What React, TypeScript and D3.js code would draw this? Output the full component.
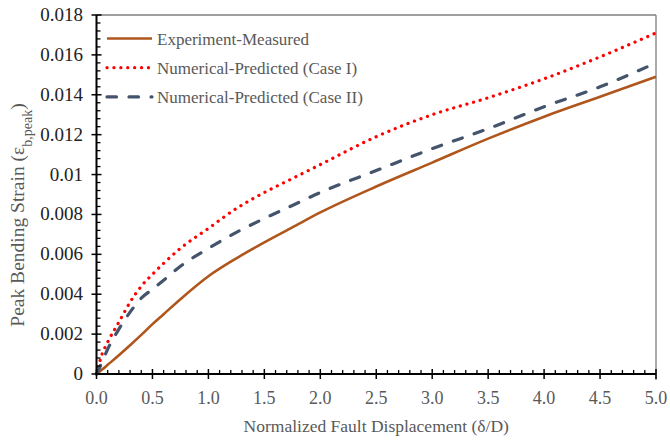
import React from "react";
import * as d3 from "d3";

const displacement = [0, 0.05, 0.1, 0.2, 0.3, 0.4, 0.5, 0.6, 0.75, 1.0, 1.25, 1.5, 1.75, 2.0, 2.5, 3.0, 3.5, 4.0, 4.5, 5.0];
const experimentMeasured = [0, 0.00022, 0.00046, 0.00094, 0.00144, 0.00196, 0.0025, 0.003, 0.00375, 0.0049, 0.0058, 0.0066, 0.00735, 0.0081, 0.0094, 0.0106, 0.0118, 0.0129, 0.0139, 0.0149];
const caseI = [0, 0.001, 0.0016, 0.0026, 0.0036, 0.0044, 0.0050, 0.00555, 0.0063, 0.0073, 0.0083, 0.0091, 0.0098, 0.0105, 0.0119, 0.0130, 0.01385, 0.0148, 0.0159, 0.0171];
const caseII = [0, 0.0006, 0.00125, 0.00225, 0.0031, 0.0038, 0.00425, 0.0047, 0.0054, 0.0063, 0.0071, 0.0078, 0.00845, 0.0091, 0.0102, 0.0113, 0.0123, 0.0134, 0.0144, 0.0156];

const xTicks = [0, 0.5, 1, 1.5, 2, 2.5, 3, 3.5, 4, 4.5, 5];
const yTicks = [0, 0.002, 0.004, 0.006, 0.008, 0.01, 0.012, 0.014, 0.016, 0.018];
const yTickLabels = ["0", "0.002", "0.004", "0.006", "0.008", "0.01", "0.012", "0.014", "0.016", "0.018"];
const legendLabels = ["Experiment-Measured", "Numerical-Predicted (Case I)", "Numerical-Predicted (Case II)"];

const W = 670, H = 441;
const L = 96.5, R = 656, T = 15, B = 374;
const FONT = "'Liberation Serif', 'Times New Roman', serif";

export default function App() {
  const x = d3.scaleLinear().domain([0, 5]).range([L, R]);
  const y = d3.scaleLinear().domain([0, 0.018]).range([B, T]);
  const mk = (vals: number[]) =>
    d3.line<number>().x((_, i) => x(displacement[i])).y((v) => y(v)).curve(d3.curveMonotoneX)(vals) || "";

  const xMinor = d3.range(0, 51).map((i) => i / 10).filter((_, i) => i % 5 !== 0);
  const yMinor = d3.range(0, 46).map((i) => i * 0.0004).filter((_, i) => i % 5 !== 0);

  const series = [
    { d: mk(experimentMeasured), stroke: "#B0561C", width: 2.6, dash: undefined as string | undefined, cap: "butt" },
    { d: mk(caseI), stroke: "#FF0000", width: 3.2, dash: "0.1 6.8", cap: "round" },
    { d: mk(caseII), stroke: "#44546A", width: 3.2, dash: "9.5 12.5", cap: "round" },
  ];

  return (
    <svg width={W} height={H} style={{ position: "absolute", left: 0, top: 0, background: "#fff" }}>
      {/* frame */}
      <line x1={L} x2={R} y1={T} y2={T} stroke="#7f7f7f" strokeWidth={1.3} />
      <line x1={R} x2={R} y1={T} y2={B + 6} stroke="#7f7f7f" strokeWidth={1.3} />
      {/* series */}
      {series.map((s, i) => (
        <path key={i} d={s.d} fill="none" stroke={s.stroke} strokeWidth={s.width}
          strokeDasharray={s.dash} strokeLinecap={s.cap as any} strokeLinejoin="round" />
      ))}
      {/* axes */}
      <line x1={L} x2={L} y1={T} y2={B} stroke="#000" strokeWidth={2} />
      <line x1={L} x2={R} y1={B} y2={B} stroke="#000" strokeWidth={2} />
      {xMinor.map((v, i) => (
        <line key={"xm" + i} x1={x(v)} x2={x(v)} y1={B} y2={B - 4} stroke="#000" strokeWidth={1.3} />
      ))}
      {xTicks.map((v, i) => (
        <g key={"xt" + i}>
          <line x1={x(v)} x2={x(v)} y1={B - 5} y2={B + 5} stroke="#000" strokeWidth={1.5} />
          <text x={x(v)} y={B + 30} textAnchor="middle" fontFamily={FONT} fontSize={18} fill="#595959">
            {v.toFixed(1)}
          </text>
        </g>
      ))}
      {yMinor.map((v, i) => (
        <line key={"ym" + i} x1={L} x2={L + 4} y1={y(v)} y2={y(v)} stroke="#000" strokeWidth={1.3} />
      ))}
      {yTicks.map((v, i) => (
        <g key={"yt" + i}>
          <line x1={L - 5} x2={L + 5} y1={y(v)} y2={y(v)} stroke="#000" strokeWidth={1.5} />
          <text x={83} y={y(v) + 6} textAnchor="end" fontFamily={FONT} fontSize={19} fill="#222">
            {yTickLabels[i]}
          </text>
        </g>
      ))}
      {/* axis titles */}
      <text x={(L + R) / 2} y={432} textAnchor="middle" fontFamily={FONT} fontSize={17.5} fill="#595959">
        Normalized Fault Displacement (δ/D)
      </text>
      <text transform={`translate(24, 215) rotate(-90)`} textAnchor="middle" fontFamily={FONT} fontSize={19.5} fill="#595959">
        Peak Bending Strain (ε<tspan baselineShift="sub" fontSize={14}>b,peak</tspan>)
      </text>
      {/* legend */}
      {series.map((s, i) => {
        const ly = 38.5 + i * 29.2;
        return (
          <g key={"lg" + i}>
            <line x1={107} x2={152} y1={ly} y2={ly} stroke={s.stroke} strokeWidth={s.width}
              strokeDasharray={s.dash} strokeLinecap={s.cap as any} />
            <text x={157} y={ly + 6} fontFamily={FONT} fontSize={17} fill="#595959">
              {legendLabels[i]}
            </text>
          </g>
        );
      })}
    </svg>
  );
}
